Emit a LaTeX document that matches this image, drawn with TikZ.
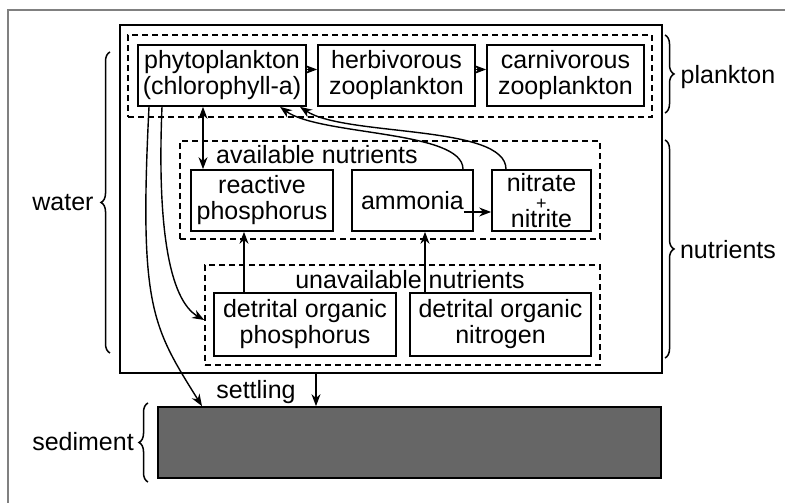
\documentclass[tikz,border=0pt]{standalone}
\usepackage{fontspec}
\setmainfont{Liberation Sans}
\usepackage{tikz}
\usetikzlibrary{arrows.meta,shapes,calc,decorations.pathreplacing}
\tikzstyle{box}=[rectangle,draw,line width=1.7pt,inner sep=0pt,align=center]
\tikzstyle{group}=[rectangle,draw,line width=1.6pt,dash pattern=on 6pt off 4pt]
\tikzstyle{edge} = [draw,line width=1.4pt,-{Stealth[length=12pt,width=9pt]}]
\tikzstyle{biedge} = [draw,line width=1.4pt,{Stealth[length=12pt,width=9pt]}-{Stealth[length=12pt,width=9pt]}]
\tikzstyle{curly} = [draw,line width=1.5pt,decorate,decoration={brace,amplitude=9pt}]
\tikzstyle{tag} = [inner sep=0pt]

\begin{document}
\begin{tikzpicture}[x=1pt,y=1pt,font=\fontsize{25}{26}\selectfont]
    \useasboundingbox (0,0) rectangle (785,503);
    \draw[gray,line width=1.5pt] (8,-10) rectangle (800,493);

    % compartments
    \node[box,line width=2.2pt,minimum width=542pt,minimum height=348pt] (water) at (391,304) {};
    \node[group,minimum width=524pt,minimum height=82pt] (plank) at (390,427) {};
    \node[group,minimum width=420pt,minimum height=98pt] (avail) at (390,313) {};
    \node[group,minimum width=395pt,minimum height=100pt] (unavail) at (402.5,188) {};
    \node[box,fill=black!60,minimum width=503pt,minimum height=71pt] (sed) at (409.5,60.5) {};

    \foreach \pos/\w/\h/\name/\txt in {(222,427.5)/168/61/phyto/{phytoplankton\\(chlorophyll-a)},
            (396.5,427.5)/157/61/herb/{herbivorous\\zooplankton}, (565.5,427.5)/157/61/carn/{carnivorous\\zooplankton},
            (262,302.5)/142/61/reac/{reactive\\phosphorus}, (412.5,302.5)/121/61/amm/{ammonia},
            (541.5,302.5)/99/61/nitr/{nitrate\\[-8pt]{\fontsize{18}{18}\selectfont +}\\[-8pt]nitrite},
            (305,178.5)/182/63/detp/{detrital organic\\phosphorus}, (500.5,178.5)/181/63/detn/{detrital organic\\nitrogen}}
        \node[box,minimum width=\w pt,minimum height=\h pt] (\name) at \pos {\txt};

    \node[tag] (availtxt) at (317,348) {available nutrients};
    \node[tag] (unavailtxt) at (410,223) {unavailable nutrients};
    \node[tag] (settletxt) at (256,111) {settling};
    \node[tag] (watertxt) at (63,300) {water};
    \node[tag] (sedtxt) at (83,61) {sediment};
    \node[tag] (planktxt) at (728,426) {plankton};
    \node[tag] (nutrtxt) at (728,253) {nutrients};

    \draw[curly] (110,150) -- (110,451);
    \draw[curly] (148,21) -- (148,100);
    \draw[curly] (665,468) -- (665,390);
    \draw[curly] (665,363) -- (665,145);

    % fluxes
    \draw[edge] ([yshift=6pt]phyto.east) -- ([yshift=6pt]herb.west);
    \draw[edge] ([yshift=6pt]herb.east) -- ([yshift=6pt]carn.west);
    \draw[biedge] ([xshift=-19pt]phyto.south) -- ([xshift=-59pt]reac.north);
    \draw[edge] ([xshift=-61pt]detp.north) -- ([xshift=-18pt]reac.south);
    \draw[edge] ([xshift=-75.5pt]detn.north) -- ([xshift=12.5pt]amm.south);
    \draw[edge] ([xshift=-10pt,yshift=-11.5pt]amm.east) -- ([yshift=-11.5pt]nitr.west);
    \draw[edge] ([xshift=50.5pt]amm.north) .. controls +(0,39) and +(40,-29) .. ([xshift=58pt]phyto.south);
    \draw[edge] ([xshift=-35.5pt]nitr.north) .. controls +(0,45) and +(45,-30) .. ([xshift=78pt]phyto.south);
    \draw[edge] ([xshift=-73pt]phyto.south) .. controls +(-10,-200) and +(-50,80) .. ([xshift=-207.5pt]sed.north);
    \draw[edge] ([xshift=-60pt]phyto.south) .. controls +(-5,-120) and +(-35,20) .. ([yshift=-5pt]unavail.west);
    \draw[edge] ([xshift=-75pt]water.south) -- ([xshift=-93.5pt]sed.north);

\end{tikzpicture}
\end{document}
